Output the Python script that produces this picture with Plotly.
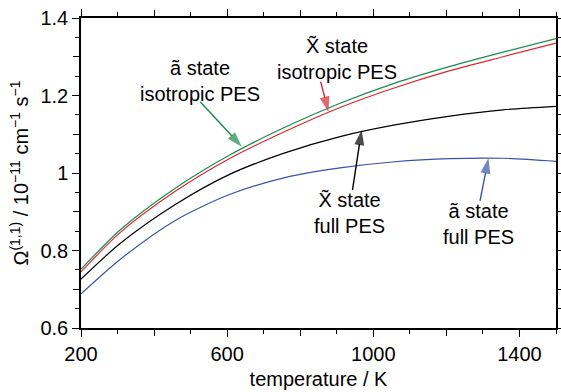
import plotly.graph_objects as go

temperature = [200, 307, 457, 608, 758, 909, 1059, 1210, 1355, 1500]
a_iso = [0.752, 0.853, 0.960, 1.047, 1.118, 1.180, 1.232, 1.275, 1.312, 1.347]
x_iso = [0.745, 0.846, 0.952, 1.038, 1.107, 1.169, 1.220, 1.264, 1.300, 1.335]
x_full = [0.726, 0.818, 0.918, 0.997, 1.052, 1.094, 1.124, 1.147, 1.163, 1.172]
a_full = [0.688, 0.777, 0.877, 0.945, 0.988, 1.013, 1.029, 1.037, 1.038, 1.030]

x_label_ticks = [200, 600, 1000, 1400]
x_other_ticks = [400, 800, 1200]
y_label_ticks = [0.6, 0.8, 1.0, 1.2, 1.4]
y_label_text = ["0.6", "0.8", "1", "1.2", "1.4"]
y_other_ticks = [0.7, 0.9, 1.1, 1.3]

# label texts and their positions (temperature, value)
label_text = ["ã state<br>isotropic PES", "X̃ state<br>isotropic PES",
              "X̃ state<br>full PES", "ã state<br>full PES"]
label_x = [526, 900, 934, 1289]
label_y = [1.237, 1.294, 0.898, 0.868]
# pointer arrows: tail -> head
arrow_tail_x = [526, 856, 943, 1292]
arrow_tail_y = [1.184, 1.236, 0.956, 0.928]
arrow_head_x = [640, 877, 968, 1315]
arrow_head_y = [1.068, 1.158, 1.111, 1.038]

GREEN = "#1a8c4e"
RED = "#d42a2e"
BLACK = "#000000"
BLUE = "#3a52a6"
FONT = "Liberation Sans, Arial, sans-serif"
label_colors = [GREEN, RED, BLACK, BLUE]

fig = go.Figure()
for ys, col in [(a_full, BLUE), (x_full, BLACK), (x_iso, RED), (a_iso, GREEN)]:
    fig.add_trace(go.Scatter(x=temperature, y=ys, mode="lines",
                             line=dict(color=col, width=1.2, shape="spline", smoothing=0.8),
                             showlegend=False, hoverinfo="skip"))

for i, col in enumerate(label_colors):
    fig.add_trace(go.Scatter(
        x=[arrow_tail_x[i], arrow_head_x[i]], y=[arrow_tail_y[i], arrow_head_y[i]],
        mode="lines+markers", line=dict(color=col, width=1.4),
        marker=dict(symbol=["circle", "arrow"], size=[0, 16], color=col,
                    angleref="previous", standoff=0, line=dict(width=0)),
        showlegend=False, hoverinfo="skip"))

# invisible trace to anchor the overlay axes (extra major ticks)
fig.add_trace(go.Scatter(x=[temperature[0]], y=[a_full[0]], mode="markers",
                         marker=dict(opacity=0), xaxis="x2", yaxis="y2",
                         showlegend=False, hoverinfo="skip"))

for txt, tx, ty in zip(label_text, label_x, label_y):
    fig.add_annotation(x=tx, y=ty, text=txt, showarrow=False,
                       font=dict(family=FONT, size=20, color="black"),
                       xanchor="center", yanchor="middle")

axis_common = dict(showline=True, linecolor="black", linewidth=1.5,
                   mirror="allticks", ticks="outside", tickcolor="black",
                   ticklen=7, tickwidth=1.3, showgrid=False, zeroline=False,
                   automargin=False,
                   tickfont=dict(family=FONT, size=20, color="black"))

fig.update_layout(
    xaxis=dict(range=[200, 1500], tickmode="array", tickvals=x_label_ticks,
               minor=dict(ticks="outside", tickmode="linear", tick0=200, dtick=100,
                          ticklen=4, tickcolor="black", tickwidth=1.3, showgrid=False),
               title=dict(text="temperature / K", standoff=8,
                          font=dict(family=FONT, size=20, color="black")),
               **axis_common),
    yaxis=dict(range=[0.6, 1.4], tickmode="array", tickvals=y_label_ticks,
               ticktext=y_label_text,
               minor=dict(ticks="outside", tickmode="linear", tick0=0.6, dtick=0.05,
                          ticklen=4, tickcolor="black", tickwidth=1.3, showgrid=False),
               title=dict(text="Ω<sup>(1,1)</sup> / 10<sup>−11</sup> cm<sup>−1</sup> s<sup>−1</sup>",
                          standoff=6,
                          font=dict(family=FONT, size=20, color="black")),
               **axis_common),
    xaxis2=dict(range=[200, 1500], overlaying="x", anchor="y2", tickmode="array",
                tickvals=x_other_ticks, showticklabels=False, ticks="outside",
                ticklen=7, tickwidth=1.3, tickcolor="black", mirror="ticks",
                showline=False, showgrid=False, zeroline=False, automargin=False),
    yaxis2=dict(range=[0.6, 1.4], overlaying="y", anchor="x2", tickmode="array",
                tickvals=y_other_ticks, showticklabels=False, ticks="outside",
                ticklen=7, tickwidth=1.3, tickcolor="black", mirror="ticks",
                showline=False, showgrid=False, zeroline=False, automargin=False),
    width=561, height=392, margin=dict(l=81, r=5, t=18, b=64),
    plot_bgcolor="white", paper_bgcolor="white",
    font=dict(family=FONT, size=20, color="black"),
)

fig.write_html("out.html")
